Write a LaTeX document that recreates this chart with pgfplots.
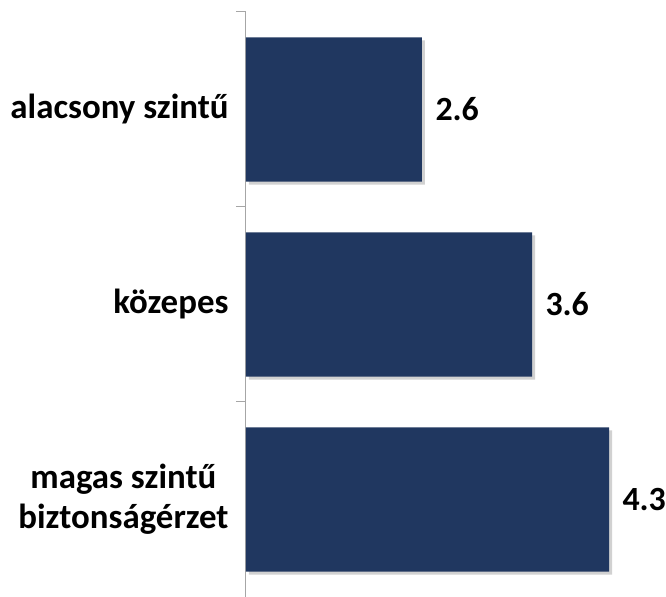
\documentclass[border=0pt]{standalone}
\usepackage{pgfplots}
\pgfplotsset{compat=1.18}
\usepackage{fontspec}
\setmainfont{Carlito}
\usetikzlibrary{shadows}
\definecolor{barblue}{HTML}{203760}
\definecolor{axgray}{HTML}{A6A6A6}

\begin{document}
\begin{tikzpicture}
\begin{axis}[
  xbar,
  x=110bp, y=195bp,
  xmin=1, xmax=4.6,
  ymin=-0.5, ymax=2.5,
  bar width=0.74,
  axis x line=none,
  axis y line*=left,
  y axis line style={draw=axgray, line width=1bp},
  ytick={0,1,2},
  yticklabels={{magas szintű\\biztonságérzet},közepes,{alacsony szintű}},
  yticklabel style={align=center, font=\fontsize{35}{40}\selectfont\bfseries, xshift=-14bp},
  major tick length=0pt,
  minor ytick={-0.5,0.5,1.5,2.5},
  minor tick length=10bp,
  tick align=outside,
  minor tick style={draw=axgray, line width=1bp},
  nodes near coords,
  nodes near coords style={font=\fontsize{34}{40}\selectfont\bfseries, black, xshift=10bp},
  /pgf/number format/fixed,
  /pgf/number format/fixed zerofill,
  /pgf/number format/precision=1,
  /pgf/number format/assume math mode=true,
  clip=false,
]
\addplot[fill=barblue, draw=none,
  drop shadow={shadow xshift=3bp, shadow yshift=-3bp, fill=black!30, opacity=0.6}]
  coordinates {(4.3,0) (3.6,1) (2.6,2)};
\coordinate (o) at (axis cs:1,-0.5);
\end{axis}
\pgfresetboundingbox
\path ([xshift=-246bp]o) rectangle ([xshift=420bp,yshift=597bp]o);
\end{tikzpicture}
\end{document}
